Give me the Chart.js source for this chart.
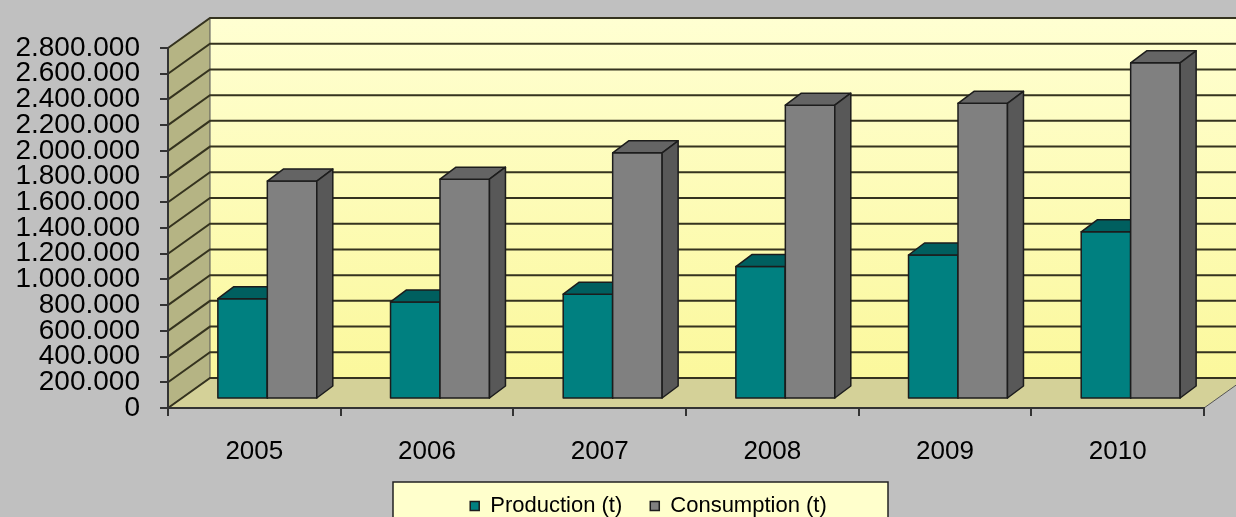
<!DOCTYPE html>
<html>
<head>
<meta charset="utf-8">
<script src="https://cdn.jsdelivr.net/npm/chart.js@4.4.1/dist/chart.umd.min.js"></script>
<style>
    html, body { margin: 0; padding: 0; background: #c0c0c0; }
    #wrap { width: 1236px; height: 517px; }
</style>
</head>
<body>
<div id="wrap"><canvas id="prodChart" width="1236" height="517"></canvas></div>
<script>
// Data
const years = ['2005', '2006', '2007', '2008', '2009', '2010'];
const production = [780000, 755000, 815000, 1030000, 1120000, 1300000];
const consumption = [1695000, 1710000, 1915000, 2285000, 2300000, 2615000];
const yTickLabels = ['0', '200.000', '400.000', '600.000', '800.000', '1.000.000', '1.200.000',
    '1.400.000', '1.600.000', '1.800.000', '2.000.000', '2.200.000', '2.400.000', '2.600.000', '2.800.000'];

// Fake 3D depth (Excel style)
const WALL_DX = 42, WALL_DY = -30;   // back wall offset from the front plane
const BAR_SHIFT_X = 13, BAR_SHIFT_Y = -9; // bars stand a bit behind the front edge
const BAR_DX = 16, BAR_DY = -12;     // bar depth
const LEGEND_SHIFT = 39;

const faces = [
    { front: '#008080', top: '#005f5f', side: '#004d4d' },
    { front: '#808080', top: '#646464', side: '#585858' }
];
const edge = '#1c1c1c';
const gridColor = '#35331f';

Chart.defaults.font.family = "'Liberation Sans', Arial, sans-serif";

function poly(ctx, pts, fill) {
    ctx.beginPath();
    ctx.moveTo(pts[0][0], pts[0][1]);
    for (let i = 1; i < pts.length; i++) ctx.lineTo(pts[i][0], pts[i][1]);
    ctx.closePath();
    if (fill) { ctx.fillStyle = fill; ctx.fill(); }
    ctx.stroke();
}

const walls3d = {
    id: 'walls3d',
    afterLayout(chart) {
        // Excel centres the legend entries a little to the right
        chart.legend.left += LEGEND_SHIFT;
        chart.legend.right += LEGEND_SHIFT;
    },
    beforeDraw(chart) {
        const ctx = chart.ctx;
        const a = chart.chartArea;
        const yScale = chart.scales.y;
        ctx.save();
        ctx.fillStyle = '#c0c0c0';
        ctx.fillRect(0, 0, chart.width, chart.height);

        // legend frame
        ctx.fillStyle = '#ffffcc';
        ctx.strokeStyle = '#222';
        ctx.lineWidth = 1.5;
        ctx.fillRect(393, 482, 495, 50);
        ctx.strokeRect(393, 482, 495, 50);

        // back wall
        const bl = a.left + WALL_DX, bt = a.top + WALL_DY, bb = a.bottom + WALL_DY, br = a.right + WALL_DX;
        const g = ctx.createLinearGradient(0, bt, 0, bb);
        g.addColorStop(0, '#ffffd2');
        g.addColorStop(1, '#fbf89c');
        ctx.fillStyle = g;
        ctx.fillRect(bl, bt, br - bl, bb - bt);

        // side wall
        ctx.strokeStyle = '#555';
        ctx.lineWidth = 1;
        poly(ctx, [[a.left, a.bottom], [bl, bb], [bl, bt], [a.left, a.top]], '#b5b484');
        // floor
        poly(ctx, [[a.left, a.bottom], [a.right, a.bottom], [br, bb], [bl, bb]], '#d4d198');

        // gridlines on back wall and side wall
        ctx.strokeStyle = gridColor;
        ctx.lineWidth = 2;
        yScale.ticks.forEach(t => {
            const y = yScale.getPixelForValue(t.value);
            ctx.beginPath();
            ctx.moveTo(a.left, y);
            ctx.lineTo(bl, y + WALL_DY);
            ctx.lineTo(br, y + WALL_DY);
            ctx.stroke();
        });
        ctx.restore();
    },
    beforeDatasetsDraw(chart) {
        chart.ctx.save();
        chart.ctx.translate(BAR_SHIFT_X, BAR_SHIFT_Y);
    },
    afterDatasetsDraw(chart) {
        const ctx = chart.ctx;
        ctx.strokeStyle = edge;
        ctx.lineWidth = 1.5;
        ctx.lineJoin = 'round';
        for (let j = 0; j < years.length; j++) {
            for (let d = 0; d < 2; d++) {
                const bar = chart.getDatasetMeta(d).data[j];
                const { x, y, base, width } = bar.getProps(['x', 'y', 'base', 'width'], true);
                const l = x - width / 2, r = x + width / 2;
                const f = faces[d];
                poly(ctx, [[l, y], [r, y], [r, base], [l, base]], f.front);
                poly(ctx, [[l, y], [l + BAR_DX, y + BAR_DY], [r + BAR_DX, y + BAR_DY], [r, y]], f.top);
                poly(ctx, [[r, y], [r + BAR_DX, y + BAR_DY], [r + BAR_DX, base + BAR_DY], [r, base]], f.side);
            }
        }
        ctx.restore();
    }
};

const ctx = document.getElementById('prodChart').getContext('2d');
new Chart(ctx, {
    type: 'bar',
    data: {
        labels: years,
        datasets: [{
            label: 'Production (t)',
            data: production,
            backgroundColor: faces[0].front,
            borderColor: edge,
            borderWidth: 1.5,
            categoryPercentage: 0.573,
            barPercentage: 1
        }, {
            label: 'Consumption (t)',
            data: consumption,
            backgroundColor: faces[1].front,
            borderColor: edge,
            borderWidth: 1.5,
            categoryPercentage: 0.573,
            barPercentage: 1
        }]
    },
    options: {
        responsive: false,
        animation: false,
        clip: false,
        layout: { padding: { left: 15, right: 32, top: 48, bottom: -10 } },
        scales: {
            x: {
                grid: { drawOnChartArea: false, tickLength: 8, color: '#333', lineWidth: 2 },
                border: { color: '#333', width: 2 },
                ticks: { color: '#000', font: { size: 26 }, padding: 20 },
                afterFit: s => { s.height = 59; }
            },
            y: {
                min: 0,
                max: 2800000,
                grid: { drawOnChartArea: false, tickLength: 8, color: '#333', lineWidth: 2 },
                border: { color: '#333', width: 2 },
                ticks: {
                    stepSize: 200000,
                    autoSkip: false,
                    padding: 20,
                    color: '#000',
                    font: { size: 28 },
                    callback: (v, i) => yTickLabels[i]
                },
                afterFit: s => { s.width = 153; }
            }
        },
        plugins: {
            legend: {
                position: 'bottom',
                labels: {
                    boxWidth: 9,
                    boxHeight: 9,
                    padding: 28,
                    color: '#000',
                    font: { size: 22 }
                }
            },
            tooltip: { enabled: false }
        }
    },
    plugins: [walls3d]
});
</script>
</body>
</html>
